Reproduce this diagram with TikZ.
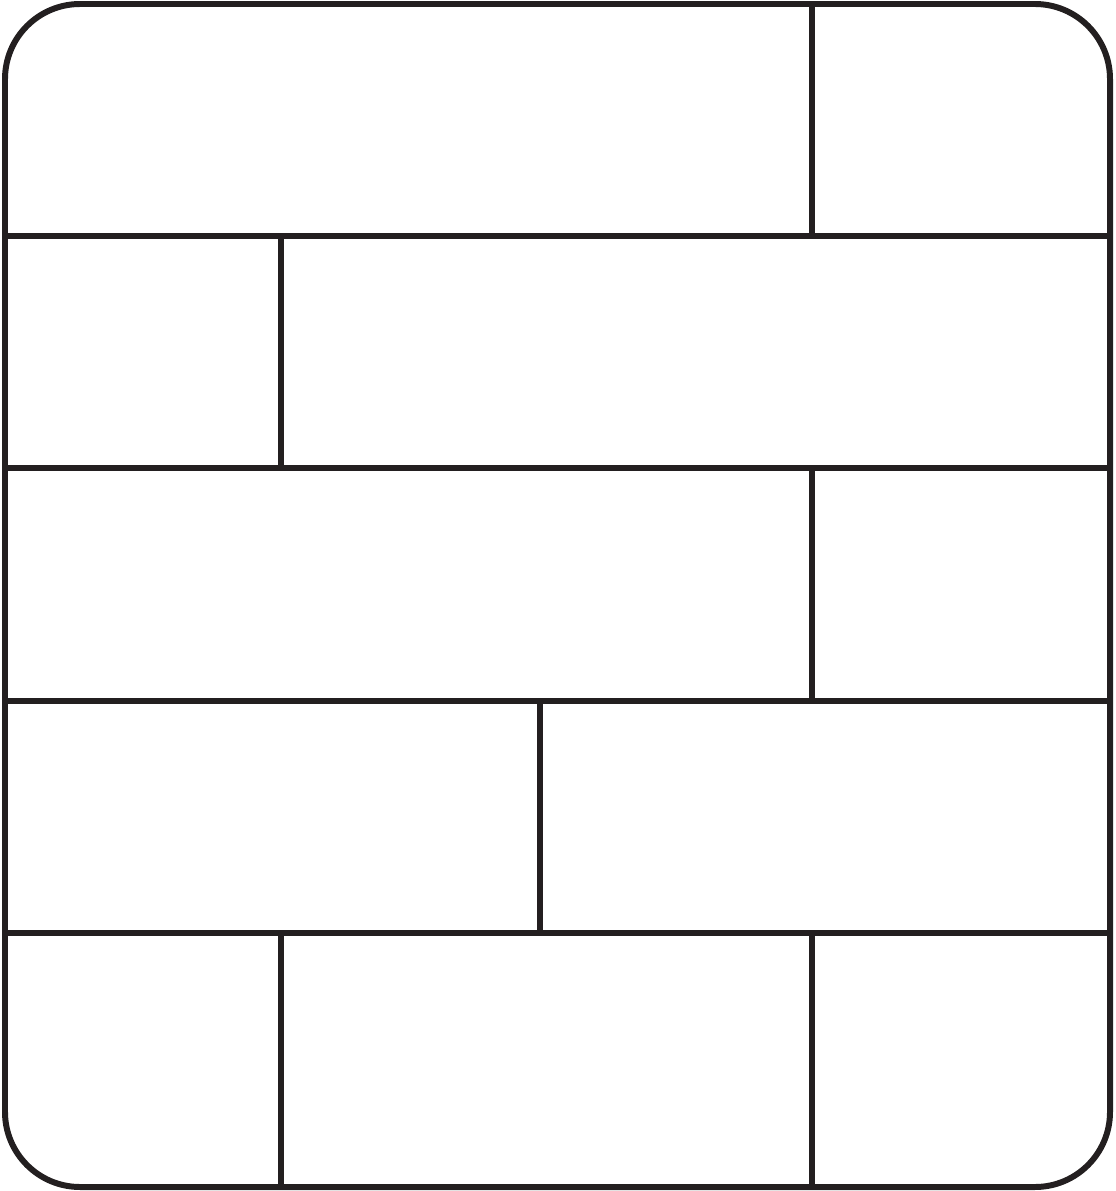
\documentclass[tikz,border=0pt]{standalone}
\usepackage{tikz}

\definecolor{brickline}{RGB}{35,31,32}

\begin{document}
\begin{tikzpicture}[x=0.01cm, y=-0.01cm, line width=1.7pt, draw=brickline]
    \useasboundingbox (0,0) rectangle (1116,1191);

    \draw[rounded corners=0.75cm] (5,4) rectangle (1110,1187);

    \draw (5,236) -- (1110,236);
    \draw (5,468) -- (1110,468);
    \draw (5,701) -- (1110,701);
    \draw (5,933) -- (1110,933);

    \draw (812,4) -- (812,236);
    \draw (281,236) -- (281,468);
    \draw (812,468) -- (812,701);
    \draw (540,701) -- (540,933);
    \draw (281,933) -- (281,1187);
    \draw (812,933) -- (812,1187);
\end{tikzpicture}
\end{document}
